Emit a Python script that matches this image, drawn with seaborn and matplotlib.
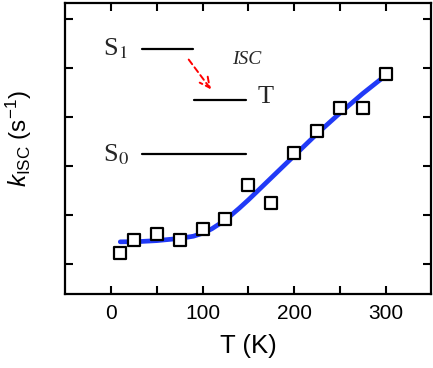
import pandas as pd
import matplotlib
matplotlib.use("Agg")
import matplotlib.pyplot as plt
import seaborn as sns

# Measured k_ISC (arbitrary units) vs temperature
temp_pts = [10, 25, 50, 75, 100, 125, 150, 175, 200, 225, 250, 275, 300]
k_pts = [1.23, 1.50, 1.61, 1.50, 1.71, 1.92, 2.61, 2.25, 3.27, 3.71, 4.19, 4.19, 4.89]

# Fit curve
temp_fit = [10, 30, 50, 75, 90, 100, 110, 120, 130, 140, 150, 175, 200, 225, 250, 275, 300]
k_fit = [1.455, 1.46, 1.48, 1.525, 1.57, 1.63, 1.72, 1.84, 1.98, 2.14, 2.31, 2.76, 3.21,
         3.66, 4.08, 4.48, 4.85]

df_pts = pd.DataFrame({"T": temp_pts, "k": k_pts})
df_fit = pd.DataFrame({"T": temp_fit, "k": k_fit})

sns.set_style("ticks")
plt.rcParams["font.family"] = ["Liberation Sans", "DejaVu Sans"]
plt.rcParams["mathtext.fontset"] = "custom"
plt.rcParams["mathtext.rm"] = "Liberation Sans"
plt.rcParams["mathtext.it"] = "Liberation Sans:italic"

fig = plt.figure(figsize=(4.33, 3.68), dpi=100)
ax = fig.add_axes([0.151, 0.201, 0.845, 0.791])

sns.lineplot(data=df_fit, x="T", y="k", color="#213af7", lw=3.4, ax=ax)
sns.scatterplot(data=df_pts, x="T", y="k", marker="s", s=85, facecolor="white",
                edgecolor="black", linewidth=1.6, zorder=3, ax=ax)

ax.set_xlim(-50, 350)
ax.set_ylim(0.39, 6.33)
ax.set_xticks([0, 100, 200, 300])
ax.set_xticks([50, 150, 250], minor=True)
ax.set_yticks([1, 2, 3, 4, 5, 6])
ax.set_yticklabels([])
ax.tick_params(which="both", direction="in", length=6, width=1.5, color="black",
               labelcolor="black", top=True, right=True, labelsize=15, pad=7)
for s in ax.spines.values():
    s.set_linewidth(1.6)
    s.set_color("black")

ax.set_xlabel("T (K)", fontsize=18.5, labelpad=8, color="black")
ax.set_ylabel(r"$k_{\mathrm{ISC}}$ (s$^{\mathrm{-1}}$)", fontsize=17.5, color="black")
ax.yaxis.set_label_coords(-0.085, 0.535)

# energy level diagram
serif = {"family": "Liberation Serif", "fontsize": 19, "math_fontfamily": "stix"}
ax.plot([34, 90], [5.39, 5.39], color="black", lw=1.6)
ax.plot([91, 148], [4.35, 4.35], color="black", lw=1.6)
ax.plot([34, 148], [3.24, 3.24], color="black", lw=1.6)
ax.text(-9, 5.39, r"S$_1$", va="center", ha="left", **serif)
ax.text(-9, 3.24, r"S$_0$", va="center", ha="left", **serif)
ax.text(160, 4.42, "T", va="center", ha="left", **serif)
ax.text(148, 5.18, "ISC", va="center", ha="center", style="italic",
        family="Liberation Serif", fontsize=14)
ax.annotate("", xy=(111, 4.52), xytext=(83, 5.22),
            arrowprops=dict(arrowstyle="->", color="red", lw=1.4, ls=(0, (3, 2)),
                            mutation_scale=18))

fig.savefig("out.png", dpi=100)
